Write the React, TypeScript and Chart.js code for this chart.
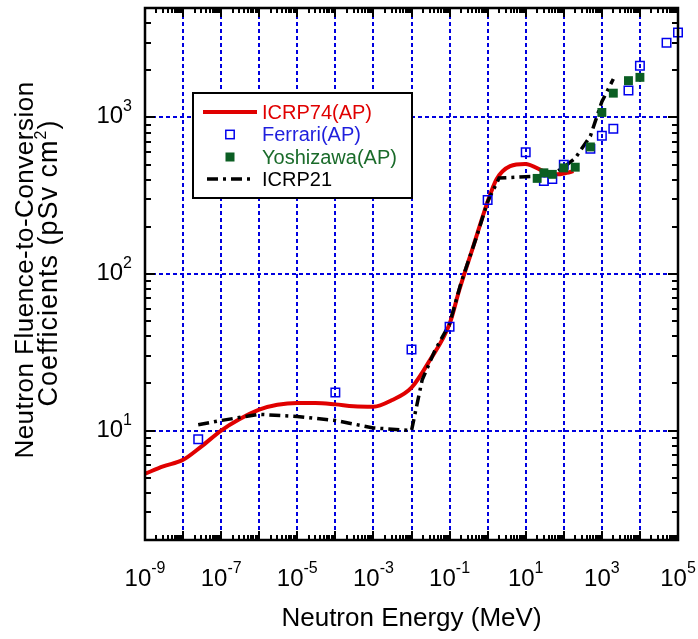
import React, { useEffect, useRef } from 'react';
import { Chart, registerables } from 'chart.js';

Chart.register(...registerables);

// ---------- data ----------
const icrp74Energy = [1e-9, 3e-9, 1e-8, 3e-8, 1e-7, 3e-7, 1e-6, 3e-6, 1e-5, 3e-5, 1e-4, 3e-4, 1e-3, 3e-3, 1e-2, 3e-2, 0.1, 0.18, 0.43, 1, 1.7, 3.9, 9.6, 29, 44, 66, 120, 180];
const icrp74Value = [5.3, 5.9, 6.5, 7.9, 10.0, 11.8, 13.6, 14.6, 15.0, 15.0, 14.7, 14.3, 14.2, 15.6, 18.8, 28, 48, 79, 153, 290, 402, 489, 505, 454, 433, 433, 443, 454];

const icrp21Energy = [2.5e-8, 1e-7, 1e-6, 1e-5, 1e-4, 1e-3, 1e-2, 1.9e-2, 4e-2, 0.1, 0.2, 0.5, 1, 2, 10, 20, 50, 100, 200, 500, 1000, 2000];
const icrp21Value = [10.9, 11.6, 12.7, 12.3, 11.6, 10.4, 10.0, 21, 32, 48, 88, 170, 290, 410, 418, 420, 432, 480, 550, 760, 1260, 1760];

const ferrariEnergy = [2.5e-8, 1e-4, 1e-2, 0.1, 1, 10, 30, 50, 100, 500, 1000, 2000, 5000, 1e4, 5e4, 1e5];
const ferrariValue = [8.8, 17.5, 33, 46, 297, 600, 392, 405, 498, 630, 764, 847, 1485, 2140, 3000, 3490];

const yoshizawaEnergy = [20, 30, 50, 100, 200, 500, 1000, 2000, 5000, 1e4];
const yoshizawaValue = [408, 443, 433, 476, 481, 648, 1076, 1429, 1718, 1803];

const xGridExponents = [-9, -8, -7, -6, -5, -4, -3, -2, -1, 0, 1, 2, 3, 4, 5];
const xLabelExponents = [-9, -7, -5, -3, -1, 1, 3, 5];
const yGridExponents = [1, 2, 3];
const yLabelExponents = [1, 2, 3];

const legendLabels = ['ICRP74(AP)', 'Ferrari(AP)', 'Yoshizawa(AP)', 'ICRP21'];
const xTitle = 'Neutron Energy (MeV)';
const yTitleLine1 = 'Neutron Fluence-to-Conversion';
const yTitleLine2 = 'Coefficients (pSv cm';
const yTitleSup = '2';
const yTitleEnd = ')';

// ---------- styles ----------
const FONT = '"Liberation Sans", Arial, Helvetica, sans-serif';
const RED = '#e00000';
const BLUE = '#0000ee';
const GREEN = '#0b5e23';
const GRID = '#0000e0';

const zip = (xs: number[], ys: number[]) => xs.map((x, i) => ({ x, y: ys[i] }));
const p10 = (e: number) => Number('1e' + e);

function drawPow(ctx: CanvasRenderingContext2D, x: number, base: number, exp: number, align: 'center' | 'right', supRise: number) {
  ctx.font = `24px ${FONT}`;
  const w1 = ctx.measureText('10').width;
  ctx.font = `16px ${FONT}`;
  const es = String(exp);
  const w2 = ctx.measureText(es).width;
  const x0 = align === 'center' ? x - (w1 + w2) / 2 : x - (w1 + w2);
  ctx.textAlign = 'left';
  ctx.textBaseline = 'alphabetic';
  ctx.font = `24px ${FONT}`;
  ctx.fillText('10', x0, base);
  ctx.font = `16px ${FONT}`;
  ctx.fillText(es, x0 + w1, base - supRise);
}

const overlayPlugin = {
  id: 'overlay',
  afterDatasetsDraw(chart: any) {
    const { ctx, chartArea: a, scales } = chart;
    const xs = scales.x;
    const ys = scales.y;
    ctx.save();
    // inside tick marks
    ctx.strokeStyle = '#000';
    ctx.lineWidth = 2;
    ctx.beginPath();
    for (let e = -9; e <= 5; e++) {
      for (let m = 1; m <= 9; m++) {
        const v = m * p10(e);
        if (v > 1e5 * 1.0001) break;
        const px = Math.round(xs.getPixelForValue(v));
        const len = m === 1 ? 9 : 5;
        ctx.moveTo(px, a.bottom);
        ctx.lineTo(px, a.bottom - len);
        ctx.moveTo(px, a.top);
        ctx.lineTo(px, a.top + len);
      }
    }
    for (let e = 0; e <= 3; e++) {
      for (let m = 1; m <= 9; m++) {
        const v = m * p10(e);
        if (v < 2 * 0.9999 || v > 5000 * 1.0001) continue;
        const py = Math.round(ys.getPixelForValue(v));
        const len = m === 1 ? 10 : 6;
        ctx.moveTo(a.left, py);
        ctx.lineTo(a.left + len, py);
        ctx.moveTo(a.right, py);
        ctx.lineTo(a.right - len, py);
      }
    }
    ctx.stroke();
    // frame
    ctx.lineWidth = 2.5;
    ctx.strokeRect(a.left, a.top, a.right - a.left, a.bottom - a.top);

    // tick labels
    ctx.fillStyle = '#000';
    xLabelExponents.forEach((e) => {
      drawPow(ctx, xs.getPixelForValue(p10(e)), 586, e, 'center', 13);
    });
    yLabelExponents.forEach((e) => {
      const py = ys.getPixelForValue(p10(e));
      drawPow(ctx, 132, py + 6, e, 'right', 12);
    });

    // axis titles
    ctx.font = `26px ${FONT}`;
    ctx.textAlign = 'center';
    ctx.textBaseline = 'alphabetic';
    ctx.fillText(xTitle, (a.left + a.right) / 2, 626);

    ctx.save();
    ctx.translate(33, 270);
    ctx.rotate(-Math.PI / 2);
    ctx.font = `26px ${FONT}`;
    ctx.textAlign = 'center';
    (ctx as any).letterSpacing = '0.5px';
    ctx.fillText(yTitleLine1, 0, 0);
    ctx.restore();

    ctx.save();
    ctx.translate(57, 263);
    ctx.rotate(-Math.PI / 2);
    (ctx as any).letterSpacing = '1px';
    ctx.font = `27px ${FONT}`;
    const wA = ctx.measureText(yTitleLine2).width;
    const wC = ctx.measureText(yTitleEnd).width;
    ctx.font = `16px ${FONT}`;
    const wB = ctx.measureText(yTitleSup).width;
    const total = wA + wB + wC;
    let tx = -total / 2;
    ctx.textAlign = 'left';
    ctx.font = `27px ${FONT}`;
    ctx.fillText(yTitleLine2, tx, 0);
    tx += wA;
    ctx.font = `16px ${FONT}`;
    ctx.fillText(yTitleSup, tx, -11);
    tx += wB;
    ctx.font = `27px ${FONT}`;
    ctx.fillText(yTitleEnd, tx, 0);
    ctx.restore();

    // legend box
    const bx = 193, by = 93, bw = 219, bh = 105;
    ctx.fillStyle = '#fff';
    ctx.fillRect(bx, by, bw, bh);
    ctx.strokeStyle = '#000';
    ctx.lineWidth = 2;
    ctx.strokeRect(bx, by, bw, bh);

    const rows = [112, 134.5, 157, 179];
    const textColors = [RED, '#1f1fdd', '#1a6b2a', '#000'];
    // ICRP74 sample
    ctx.strokeStyle = RED;
    ctx.lineWidth = 4;
    ctx.beginPath();
    ctx.moveTo(203, rows[0]);
    ctx.lineTo(257, rows[0]);
    ctx.stroke();
    // Ferrari sample
    ctx.strokeStyle = BLUE;
    ctx.lineWidth = 1.5;
    ctx.strokeRect(230 - 4.2, rows[1] - 4.2, 8.4, 8.4);
    // Yoshizawa sample
    ctx.fillStyle = GREEN;
    ctx.fillRect(230 - 4.5, rows[2] - 4.5, 9, 9);
    // ICRP21 sample
    ctx.strokeStyle = '#000';
    ctx.lineWidth = 3.5;
    ctx.setLineDash([11, 5, 3, 5]);
    ctx.beginPath();
    ctx.moveTo(207, rows[3]);
    ctx.lineTo(250, rows[3]);
    ctx.stroke();
    ctx.setLineDash([]);

    ctx.font = `20px ${FONT}`;
    ctx.textAlign = 'left';
    ctx.textBaseline = 'middle';
    legendLabels.forEach((t, i) => {
      ctx.fillStyle = textColors[i];
      ctx.fillText(t, 262, rows[i] + 1);
    });
    ctx.restore();
  },
};

export default function App() {
  const ref = useRef<HTMLCanvasElement | null>(null);
  useEffect(() => {
    if (!ref.current) return;
    const chart = new Chart(ref.current, {
      type: 'scatter',
      data: {
        datasets: [
          {
            label: legendLabels[2],
            data: zip(yoshizawaEnergy, yoshizawaValue),
            pointStyle: 'rect',
            pointRadius: 6.3,
            backgroundColor: GREEN,
            borderColor: GREEN,
            pointBorderWidth: 0,
            showLine: false,
            order: 0,
            clip: false,
          },
          {
            label: legendLabels[1],
            data: zip(ferrariEnergy, ferrariValue),
            pointStyle: 'rect',
            pointRadius: 6,
            backgroundColor: 'rgba(0,0,0,0)',
            borderColor: BLUE,
            pointBorderWidth: 1.5,
            showLine: false,
            order: 1,
            clip: false,
          },
          {
            label: legendLabels[3],
            data: zip(icrp21Energy, icrp21Value),
            showLine: true,
            borderColor: '#000',
            borderWidth: 3.5,
            borderDash: [11, 5, 3, 5],
            pointRadius: 0,
            tension: 0,
            order: 2,
          },
          {
            label: legendLabels[0],
            data: zip(icrp74Energy, icrp74Value),
            showLine: true,
            borderColor: RED,
            borderWidth: 4,
            pointRadius: 0,
            cubicInterpolationMode: 'monotone',
            order: 3,
          },
        ] as any,
      },
      options: {
        responsive: false,
        animation: false,
        events: [],
        layout: { padding: { left: 145, right: 20, top: 8, bottom: 99 } },
        plugins: { legend: { display: false }, tooltip: { enabled: false } },
        scales: {
          x: {
            type: 'logarithmic',
            min: 1e-9,
            max: 1e5,
            afterBuildTicks: (s: any) => {
              s.ticks = xGridExponents.map((e) => ({ value: p10(e) }));
            },
            ticks: { display: false },
            grid: { color: GRID, lineWidth: 2, drawTicks: false },
            border: { display: false, dash: [4, 3] },
          },
          y: {
            type: 'logarithmic',
            min: 2,
            max: 5000,
            afterBuildTicks: (s: any) => {
              s.ticks = yGridExponents.map((e) => ({ value: p10(e) }));
            },
            ticks: { display: false },
            grid: { color: GRID, lineWidth: 2, drawTicks: false },
            border: { display: false, dash: [4, 3] },
          },
        },
      } as any,
      plugins: [overlayPlugin],
    });
    return () => chart.destroy();
  }, []);
  return (
    <div style={{ position: 'absolute', left: 0, top: 0, width: 698, height: 639, background: '#fff' }}>
      <canvas ref={ref} width={698} height={639} style={{ display: 'block' }} />
    </div>
  );
}
